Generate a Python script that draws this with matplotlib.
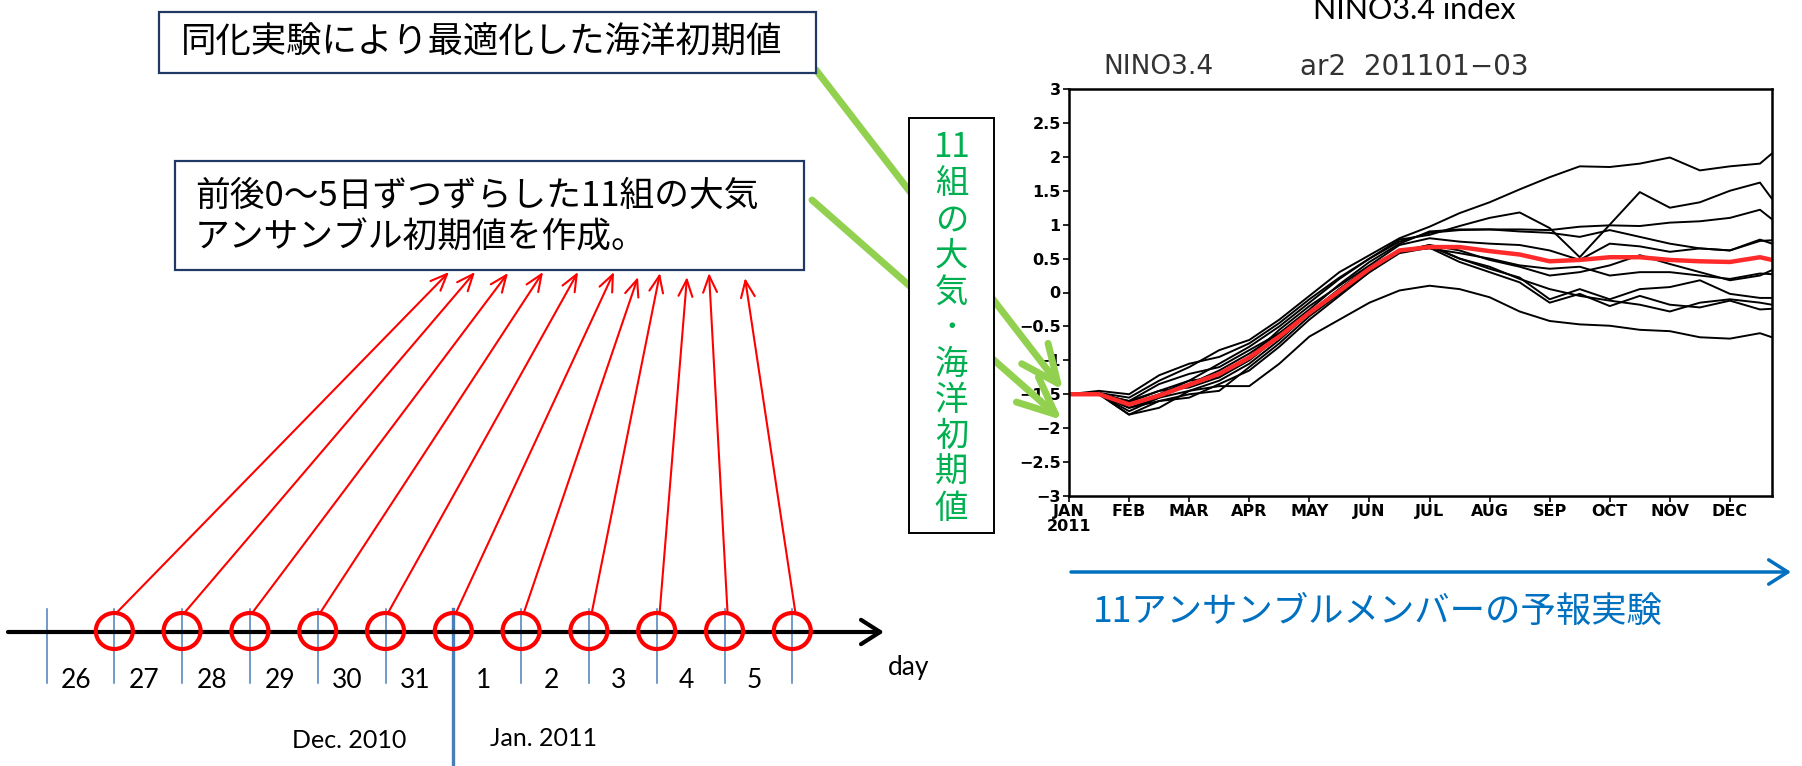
import matplotlib.pyplot as plt
from matplotlib.patches import Rectangle, Ellipse

JP = ['Noto Sans CJK JP', 'DejaVu Sans']
LAT = ['Lato', 'DejaVu Sans']
NARROW = ['Liberation Sans Narrow', 'DejaVu Sans']

# NINO3.4 ensemble forecast from Jan 2011, x in months since 1 Jan
months = [0, 0.5, 1, 1.5, 2, 2.5, 3, 3.5, 4, 4.5, 5, 5.5,
          6, 6.5, 7, 7.5, 8, 8.5, 9, 9.5, 10, 10.5, 11, 11.5, 11.7]
members = [
    [-1.5, -1.48, -1.55, -1.3, -1.1, -0.85, -0.7, -0.4, -0.05, 0.3, 0.55, 0.8,
     0.97, 1.17, 1.33, 1.52, 1.7, 1.86, 1.85, 1.9, 1.99, 1.8, 1.86, 1.9, 2.05],
    [-1.5, -1.5, -1.6, -1.45, -1.3, -1.05, -0.8, -0.5, -0.15, 0.2, 0.5, 0.78,
     0.85, 0.98, 1.1, 1.18, 0.95, 0.52, 1.0, 1.48, 1.25, 1.33, 1.5, 1.62, 1.38],
    [-1.5, -1.45, -1.5, -1.22, -1.05, -0.95, -0.75, -0.45, -0.1, 0.22, 0.5, 0.75,
     0.88, 0.92, 0.93, 0.93, 0.92, 0.97, 0.99, 0.98, 1.03, 1.05, 1.1, 1.22, 1.08],
    [-1.5, -1.5, -1.75, -1.55, -1.35, -1.15, -0.9, -0.6, -0.25, 0.12, 0.45, 0.72,
     0.9, 0.93, 0.93, 0.9, 0.88, 0.82, 0.92, 0.82, 0.72, 0.65, 0.62, 0.76, 0.77],
    [-1.5, -1.5, -1.65, -1.5, -1.3, -1.25, -0.95, -0.55, -0.2, 0.1, 0.4, 0.7,
     0.8, 0.75, 0.72, 0.7, 0.62, 0.48, 0.72, 0.68, 0.6, 0.65, 0.62, 0.78, 0.72],
    [-1.5, -1.5, -1.8, -1.7, -1.45, -1.3, -1.05, -0.7, -0.3, 0.0, 0.32, 0.6,
     0.7, 0.62, 0.48, 0.38, 0.25, 0.3, 0.4, 0.55, 0.42, 0.3, 0.18, 0.25, 0.33],
    [-1.5, -1.5, -1.6, -1.35, -1.2, -1.1, -0.85, -0.6, -0.3, 0.05, 0.38, 0.62,
     0.65, 0.58, 0.5, 0.4, 0.35, 0.38, 0.25, 0.3, 0.3, 0.25, 0.2, 0.28, 0.27],
    [-1.5, -1.5, -1.7, -1.6, -1.5, -1.45, -1.1, -0.75, -0.35, -0.02, 0.3, 0.6,
     0.7, 0.5, 0.35, 0.22, -0.1, 0.05, -0.1, 0.05, 0.08, 0.18, -0.02, -0.08, -0.08],
    [-1.5, -1.48, -1.62, -1.45, -1.4, -1.25, -1.0, -0.65, -0.3, 0.05, 0.35, 0.62,
     0.68, 0.5, 0.38, 0.2, 0.05, -0.05, -0.12, -0.18, -0.28, -0.15, -0.1, -0.15, -0.18],
    [-1.5, -1.5, -1.8, -1.6, -1.55, -1.35, -1.15, -0.8, -0.4, -0.05, 0.3, 0.58,
     0.66, 0.45, 0.3, 0.15, -0.15, -0.02, -0.2, -0.05, -0.18, -0.22, -0.12, -0.25, -0.24],
    [-1.5, -1.5, -1.7, -1.55, -1.45, -1.38, -1.38, -1.05, -0.65, -0.4, -0.15, 0.03,
     0.1, 0.05, -0.07, -0.28, -0.42, -0.47, -0.49, -0.55, -0.57, -0.66, -0.68, -0.6, -0.66],
]
ens_mean = [-1.5, -1.5, -1.65, -1.52, -1.36, -1.2, -0.96, -0.65, -0.3, 0.02, 0.35, 0.62,
            0.67, 0.67, 0.61, 0.56, 0.46, 0.48, 0.52, 0.52, 0.48, 0.46, 0.45, 0.52, 0.48]
month_labels = ['JAN\n2011', 'FEB', 'MAR', 'APR', 'MAY', 'JUN',
                'JUL', 'AUG', 'SEP', 'OCT', 'NOV', 'DEC']
y_ticks = [-3, -2.5, -2, -1.5, -1, -0.5, 0, 0.5, 1, 1.5, 2, 2.5, 3]

# start dates: 26 Dec 2010 .. 5 Jan 2011, shifted -5..+5 days around 1 Jan
day_labels = ['26', '27', '28', '29', '30', '31', '1', '2', '3', '4', '5']
shifts = [-5, -4, -3, -2, -1, 0, 1, 2, 3, 4, 5]

fig = plt.figure(figsize=(18.02, 7.66), dpi=100)

# ---- NINO3.4 plume ----
ax = fig.add_axes([1069 / 1802, (766 - 496) / 766, 703 / 1802, 407 / 766])
for m in members:
    ax.plot(months, m, color='black', lw=1.4)
ax.plot(months, ens_mean, color='#ff2a2a', lw=3.2)
ax.set_xlim(0, 11.7)
ax.set_ylim(-3, 3)
ax.set_xticks(range(12))
ax.set_xticklabels(month_labels, family=NARROW, fontweight='bold', fontsize=11.5,
                   linespacing=0.95)
ax.set_yticks(y_ticks)
ax.set_yticklabels([('%g' % v).replace('-', '\u2212') for v in y_ticks],
                   family=NARROW, fontweight='bold', fontsize=11.5)
ax.tick_params(direction='out', length=4, width=1.2, pad=2)
for s in ax.spines.values():
    s.set_linewidth(1.8)

# ---- overlay in pixel coordinates ----
ov = fig.add_axes([0, 0, 1, 1], zorder=5)
ov.set_xlim(0, 1802)
ov.set_ylim(766, 0)
ov.axis('off')

ov.text(1414, 10, 'NINO3.4 index', family=LAT, fontsize=22, ha='center', va='center')
ov.text(1103, 67, 'NINO3.4', family=['DejaVu Sans'], fontsize=19, color='#333333',
        ha='left', va='center')
ov.text(1300, 67, 'ar2  201101\u221203', family=['DejaVu Sans'], fontsize=20,
        color='#333333', ha='left', va='center')

# timeline
y_line = 632
x0, dx = 46.5, 67.8
ov.annotate('', xy=(884, y_line), xytext=(8, y_line),
            arrowprops=dict(arrowstyle='->,head_length=0.55,head_width=0.35', lw=3,
                            color='black', mutation_scale=25, shrinkA=0, shrinkB=0),
            zorder=3)
for i in range(12):
    x = x0 + i * dx
    if i == 6:
        ov.plot([x, x], [609, 766], color='#4a7ebb', lw=2.4, zorder=2)
    else:
        ov.plot([x, x], [609, 683], color='#4a7ebb', lw=1.1, zorder=2)
for i, lab in enumerate(day_labels):
    ov.text(x0 + (i + 0.5) * dx - 4, 681, lab, family=LAT, fontsize=19,
            ha='center', va='center')
ov.text(888, 668, 'day', family=LAT, fontsize=19, ha='left', va='center')
ov.text(349, 741, 'Dec. 2010', family=LAT, fontsize=18, ha='center', va='center')
ov.text(544, 738, 'Jan. 2011', family=LAT, fontsize=18, ha='center', va='center')

tip_x = [449, 475, 508, 543, 578, 614, 638, 660, 687, 709, 745]
tip_y = [272, 272, 273, 272, 272, 272, 277, 273, 277, 273, 278]
for k, s in enumerate(shifts):
    cx = x0 + (6 + s) * dx
    ov.add_patch(Ellipse((cx, 631), 37, 36, fill=False, ec='red', lw=3, zorder=4))
    ov.annotate('', xy=(tip_x[k], tip_y[k]), xytext=(cx + 3, 612),
                arrowprops=dict(arrowstyle='->,head_length=0.6,head_width=0.25',
                                color='red', lw=1.5, mutation_scale=20,
                                shrinkA=0, shrinkB=0), zorder=4)

# text boxes
ov.add_patch(Rectangle((159, 12), 657, 61, fc='white', ec='#1f3864', lw=1.6, zorder=2))
ov.text(181, 43, '同化実験により最適化した海洋初期値', family=JP, fontsize=25.5,
        ha='left', va='center', zorder=3)
ov.add_patch(Rectangle((175, 161), 629, 109, fc='white', ec='#1f3864', lw=1.6, zorder=2))
ov.text(195, 196, '前後0～5日ずつずらした11組の大気', family=JP, fontsize=25,
        ha='left', va='center', zorder=3)
ov.text(195, 238, 'アンサンブル初期値を作成。', family=JP, fontsize=25,
        ha='left', va='center', zorder=3)

# green arrows into the plume start
for (sx, sy), (tx, ty) in [((816, 70), (1063, 390)), ((812, 200), (1062, 420))]:
    ov.annotate('', xy=(tx, ty), xytext=(sx, sy),
                arrowprops=dict(arrowstyle='->,head_length=0.9,head_width=0.4',
                                color='#92d050', lw=5, mutation_scale=30,
                                shrinkA=0, shrinkB=0, capstyle='round',
                                joinstyle='round'), zorder=1)

ov.add_patch(Rectangle((909, 118), 85, 415, fc='white', ec='black', lw=1.4, zorder=2))
v_chars = ['11', '組', 'の', '大', '気', '･', '海', '洋', '初', '期', '値']
ov.text(951.5, 328, '\n'.join(v_chars), family=JP, fontsize=24, color='#00b050',
        ha='center', va='center', multialignment='center', linespacing=1.04,
        zorder=3)

# forecast arrow
ov.annotate('', xy=(1791, 572), xytext=(1071, 572),
            arrowprops=dict(arrowstyle='->,head_length=0.55,head_width=0.35',
                            color='#0070c0', lw=2.5, mutation_scale=25,
                            shrinkA=0, shrinkB=0))
ov.text(1093, 612, '11アンサンブルメンバーの予報実験', family=JP, fontsize=25.5,
        color='#0070c0', ha='left', va='center')

fig.savefig('out.png', dpi=100)
